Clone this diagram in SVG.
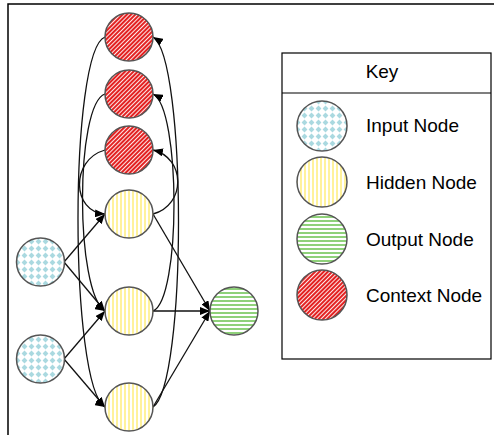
<svg xmlns="http://www.w3.org/2000/svg" width="494" height="435" viewBox="0 0 494 435">
<style>
.node{stroke:#555;stroke-width:1.5}
.edge{fill:none;stroke:#111;stroke-width:1.3;marker-end:url(#arr)}
.lbl{font-family:"Liberation Sans",Arial,sans-serif;font-size:19px;fill:#000}
</style>
<defs>
<marker id="arr" viewBox="0 0 10 8" refX="10" refY="4" markerWidth="10" markerHeight="8" markerUnits="userSpaceOnUse" orient="auto">
<path d="M0,0 L10,4 L0,8 Z" fill="#000"/>
</marker>
<pattern id="pIn" width="7" height="7" patternUnits="userSpaceOnUse">
<rect width="7" height="7" fill="#fff"/>
<polygon points="3.5,0.6 6.4,3.5 3.5,6.4 0.6,3.5" fill="#aad9e0"/>
</pattern>
<pattern id="pHid" width="4" height="4" patternUnits="userSpaceOnUse">
<rect width="4" height="4" fill="#fff"/>
<rect x="0" width="2" height="4" fill="#fff29c"/>
</pattern>
<pattern id="pOut" width="4" height="4" patternUnits="userSpaceOnUse">
<rect width="4" height="4" fill="#fff"/>
<rect y="0" width="4" height="2" fill="#8fd17a"/>
</pattern>
<pattern id="pCtx" width="3" height="3" patternUnits="userSpaceOnUse" patternTransform="rotate(45)">
<rect width="3" height="3" fill="#fff"/>
<rect x="0" width="2.1" height="3" fill="#e32222"/>
</pattern>
</defs>
<path d="M8,435 L8,4 L494,4" fill="none" stroke="#000" stroke-width="1.5"/>
<g id="connectors">
<path class="edge" d="M64,262 L105,214"/>
<path class="edge" d="M64,262 L105,311"/>
<path class="edge" d="M64,359 L105,311"/>
<path class="edge" d="M64,359 L105,407"/>
<path class="edge" d="M153,214 L210,311"/>
<path class="edge" d="M153,311 L210,311"/>
<path class="edge" d="M153,407 L210,311"/>
<path class="edge" d="M153,214 C186,205 186,158 153,150"/>
<path class="edge" d="M105,150 C70,160 72,212 105,214"/>
<path class="edge" d="M153,311 C181,300 181,108 153,94"/>
<path class="edge" d="M105,94 C75,104 75,292 105,311"/>
<path class="edge" d="M153,407 C187,385 187,58 153,37"/>
<path class="edge" d="M105,37 C69,50 69,385 105,407"/>
</g>
<g id="input1"><circle class="node" cx="40.5" cy="262" r="24" fill="url(#pIn)"/></g>
<g id="input2"><circle class="node" cx="40.5" cy="359" r="24" fill="url(#pIn)"/></g>
<g id="hidden1"><circle class="node" cx="129" cy="214" r="24" fill="url(#pHid)"/></g>
<g id="hidden2"><circle class="node" cx="129" cy="311" r="24" fill="url(#pHid)"/></g>
<g id="hidden3"><circle class="node" cx="129" cy="407" r="24" fill="url(#pHid)"/></g>
<g id="output"><circle class="node" cx="234" cy="311" r="24" fill="url(#pOut)"/></g>
<g id="context1"><circle class="node" cx="129" cy="37" r="24" fill="url(#pCtx)"/></g>
<g id="context2"><circle class="node" cx="129" cy="94" r="24" fill="url(#pCtx)"/></g>
<g id="context3"><circle class="node" cx="129" cy="150" r="24" fill="url(#pCtx)"/></g>
<g id="key">
<rect x="282" y="53" width="209" height="306" fill="#fff" stroke="#000" stroke-width="1.2"/>
<line x1="282" y1="93" x2="491" y2="93" stroke="#000" stroke-width="1.2"/>
<text class="lbl" x="382" y="78" text-anchor="middle">Key</text>
<circle class="node" cx="322" cy="126" r="25" fill="url(#pIn)"/>
<text class="lbl" x="366" y="132">Input Node</text>
<circle class="node" cx="322" cy="182" r="25" fill="url(#pHid)"/>
<text class="lbl" x="366" y="189">Hidden Node</text>
<circle class="node" cx="322" cy="239" r="25" fill="url(#pOut)"/>
<text class="lbl" x="366" y="246">Output Node</text>
<circle class="node" cx="322" cy="295" r="25" fill="url(#pCtx)"/>
<text class="lbl" x="366" y="302">Context Node</text>
</g>
</svg>
